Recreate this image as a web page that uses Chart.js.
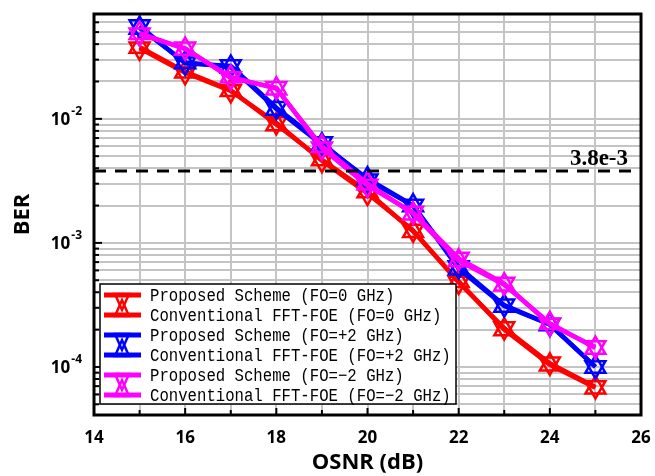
<!DOCTYPE html>
<html>
<head>
<meta charset="utf-8">
<script src="https://cdn.jsdelivr.net/npm/chart.js@4.4.1/dist/chart.umd.min.js"></script>
<style>
  html, body { margin: 0; padding: 0; background: #fff; }
  #wrap { width: 655px; height: 476px; }
</style>
</head>
<body>
<div id="wrap"><canvas id="berChart" width="655" height="476"></canvas></div>
<script>
// OSNR sweep (dB) and measured BER per scheme / frequency offset
const osnr = [15, 16, 17, 18, 19, 20, 21, 22, 23, 24, 25];

const propFo0   = [0.037, 0.0235, 0.0168, 0.0093, 0.0046, 0.0025, 0.00126, 4.8e-4, 2.06e-4, 1.07e-4, 6.9e-5];
const convFo0   = [0.038, 0.0240, 0.0170, 0.0090, 0.0047, 0.0026, 0.00124, 4.9e-4, 2.0e-4, 1.04e-4, 6.8e-5];
const propFoP2  = [0.056, 0.0280, 0.0267, 0.0123, 0.0064, 0.0032, 0.0020, 6.4e-4, 3.15e-4, 2.2e-4, 1.0e-4];
const convFoP2  = [0.054, 0.0285, 0.0262, 0.0120, 0.0062, 0.0033, 0.0020, 6.2e-4, 3.1e-4, 2.2e-4, 1.0e-4];
const propFoM2  = [0.048, 0.0370, 0.0213, 0.0178, 0.0058, 0.0029, 0.00176, 7.5e-4, 4.7e-4, 2.2e-4, 1.45e-4];
const convFoM2  = [0.049, 0.0365, 0.0218, 0.0175, 0.0060, 0.0030, 0.00172, 7.2e-4, 4.6e-4, 2.25e-4, 1.42e-4];

const seriesLabels = [
    'Proposed Scheme (FO=0 GHz)',
    'Conventional FFT-FOE (FO=0 GHz)',
    'Proposed Scheme (FO=+2 GHz)',
    'Conventional FFT-FOE (FO=+2 GHz)',
    'Proposed Scheme (FO=\u22122 GHz)',
    'Conventional FFT-FOE (FO=\u22122 GHz)'
];
const seriesColors = ['#ff0000', '#ff0000', '#0000ff', '#0000ff', '#ff00ff', '#ff00ff'];
const seriesData = [propFo0, convFo0, propFoP2, convFoP2, propFoM2, convFoM2];
// Proposed = down triangle, Conventional = up triangle
const seriesRotation = [180, 0, 180, 0, 180, 0];
const seriesOrder = [5, 4, 3, 2, 1, 0];

const fecLimit = 3.8e-3;
const fecLabel = '3.8e-3';
const xMin = 14, xMax = 26;
const yMin = 4.1e-5, yMax = 0.07;
const yMajor = [1e-2, 1e-3, 1e-4];

const tickFont = "'Open Sans', sans-serif";

function makeDataset(i) {
    return {
        label: seriesLabels[i],
        data: osnr.map((x, k) => ({ x: x, y: seriesData[i][k] })),
        borderColor: seriesColors[i],
        backgroundColor: 'rgba(0,0,0,0)',
        borderWidth: 4.5,
        pointStyle: 'triangle',
        rotation: seriesRotation[i],
        pointRadius: 11.5,
        pointBorderWidth: 2.5,
        pointBorderColor: seriesColors[i],
        pointBackgroundColor: 'rgba(0,0,0,0)',
        order: seriesOrder[i],
        tension: 0
    };
}

// Frame, inward ticks, y labels with superscripts, FEC line and legend box
const decorPlugin = {
    id: 'decor',
    afterDraw(chart) {
        const ctx = chart.ctx;
        const area = chart.chartArea;
        const xs = chart.scales.x;
        const ys = chart.scales.y;
        ctx.save();

        // FEC threshold
        const yf = ys.getPixelForValue(fecLimit);
        ctx.strokeStyle = '#000';
        ctx.lineWidth = 3;
        ctx.setLineDash([12, 9]);
        ctx.beginPath();
        ctx.moveTo(area.left, yf);
        ctx.lineTo(area.right, yf);
        ctx.stroke();
        ctx.setLineDash([]);
        ctx.fillStyle = '#000';
        ctx.font = "bold 23px 'Liberation Serif', serif";
        ctx.textAlign = 'right';
        ctx.textBaseline = 'alphabetic';
        ctx.fillText(fecLabel, area.right - 13, yf - 6, 63);

        // inward tick marks
        ctx.lineWidth = 2;
        ctx.strokeStyle = '#000';
        xs.ticks.forEach(t => {
            const px = xs.getPixelForValue(t.value);
            const len = t.value % 2 === 0 ? 7 : 5;
            ctx.beginPath();
            ctx.moveTo(px, area.bottom);
            ctx.lineTo(px, area.bottom - len);
            ctx.stroke();
        });
        ys.ticks.forEach(t => {
            const py = ys.getPixelForValue(t.value);
            const major = yMajor.some(v => Math.abs(Math.log10(v) - Math.log10(t.value)) < 1e-6);
            ctx.beginPath();
            ctx.moveTo(area.left, py);
            ctx.lineTo(area.left + (major ? 8 : 5), py);
            ctx.stroke();
        });

        // y tick labels 10^n
        ctx.fillStyle = '#000';
        yMajor.forEach(v => {
            const py = ys.getPixelForValue(v);
            const exp = '-' + Math.round(-Math.log10(v));
            ctx.font = 'bold 12px ' + tickFont;
            const we = ctx.measureText(exp).width;
            ctx.textAlign = 'right';
            ctx.textBaseline = 'middle';
            const right = area.left - 12;
            ctx.fillText(exp, right, py - 7);
            ctx.font = 'bold 17px ' + tickFont;
            ctx.fillText('10', right - we - 1, py + 1);
        });

        // frame
        ctx.lineWidth = 3;
        ctx.strokeStyle = '#000';
        ctx.strokeRect(area.left, area.top, area.right - area.left, area.bottom - area.top);

        // legend box (Origin style: line with tall hollow triangle)
        const lx = 100, ly = 284, lw = 356, lh = 120, row = 20;
        ctx.fillStyle = '#fff';
        ctx.fillRect(lx, ly, lw, lh);
        ctx.lineWidth = 1.5;
        ctx.strokeStyle = '#000';
        ctx.strokeRect(lx, ly, lw, lh);
        chart.data.datasets.forEach((ds, i) => {
            const cy = ly + 11 + i * row;
            const cx = lx + 22;
            const dir = ds.rotation === 180 ? 1 : -1;
            ctx.strokeStyle = ds.borderColor;
            ctx.lineWidth = 5;
            ctx.beginPath();
            ctx.moveTo(lx + 4, cy);
            ctx.lineTo(lx + 41, cy);
            ctx.stroke();
            ctx.lineWidth = 2.5;
            ctx.beginPath();
            ctx.moveTo(cx - 7, cy - dir * 1);
            ctx.lineTo(cx + 7, cy - dir * 1);
            ctx.lineTo(cx, cy + dir * 15);
            ctx.closePath();
            ctx.stroke();

            ctx.fillStyle = '#000';
            ctx.font = "18px 'Liberation Mono', monospace";
            ctx.textAlign = 'left';
            ctx.textBaseline = 'middle';
            ctx.save();
            ctx.translate(lx + 50, cy + 1);
            ctx.scale(0.87, 1);
            ctx.fillText(ds.label, 0, 0);
            ctx.restore();
        });
        ctx.restore();
    }
};

document.addEventListener('DOMContentLoaded', function() {
    const canvas = document.getElementById('berChart');
    new Chart(canvas, {
        type: 'line',
        data: { datasets: seriesData.map((_, i) => makeDataset(i)) },
        options: {
            responsive: false,
            animation: false,
            devicePixelRatio: 1,
            layout: { padding: { top: 13, right: 0, left: 0, bottom: 0 } },
            plugins: {
                legend: { display: false },
                tooltip: { enabled: false }
            },
            scales: {
                x: {
                    type: 'linear',
                    min: xMin,
                    max: xMax,
                    afterFit: s => {
                        s.height = 61;
                        s.paddingLeft = 0;
                        s.paddingRight = 10;
                    },
                    grid: { color: '#c4c4c4', lineWidth: 2, drawTicks: false },
                    border: { display: false },
                    ticks: {
                        stepSize: 1,
                        padding: 13,
                        color: '#000',
                        font: { size: 17, weight: 'bold', family: tickFont },
                        callback: v => (v % 2 === 0 ? v : '')
                    },
                    title: {
                        display: true,
                        text: 'OSNR (dB)',
                        color: '#000',
                        padding: 0,
                        font: { size: 22, weight: 'bold', family: tickFont }
                    }
                },
                y: {
                    type: 'logarithmic',
                    min: yMin,
                    max: yMax,
                    afterFit: s => {
                        s.width = 94;
                        s.paddingTop = 0;
                        s.paddingBottom = 0;
                    },
                    afterBuildTicks: s => {
                        const ticks = [];
                        for (let e = -5; e <= -1; e++) {
                            for (let m = 1; m <= 9; m++) {
                                const v = m * Math.pow(10, e);
                                if (v >= yMin && v <= yMax) ticks.push({ value: v });
                            }
                        }
                        s.ticks = ticks;
                    },
                    grid: { color: '#c4c4c4', lineWidth: 2, drawTicks: false },
                    border: { display: false },
                    ticks: { display: false },
                    title: {
                        display: true,
                        text: 'BER',
                        color: '#000',
                        padding: { top: 10, bottom: 0 },
                        font: { size: 22, weight: 'bold', family: tickFont }
                    }
                }
            }
        },
        plugins: [decorPlugin]
    });
});
</script>
</body>
</html>
